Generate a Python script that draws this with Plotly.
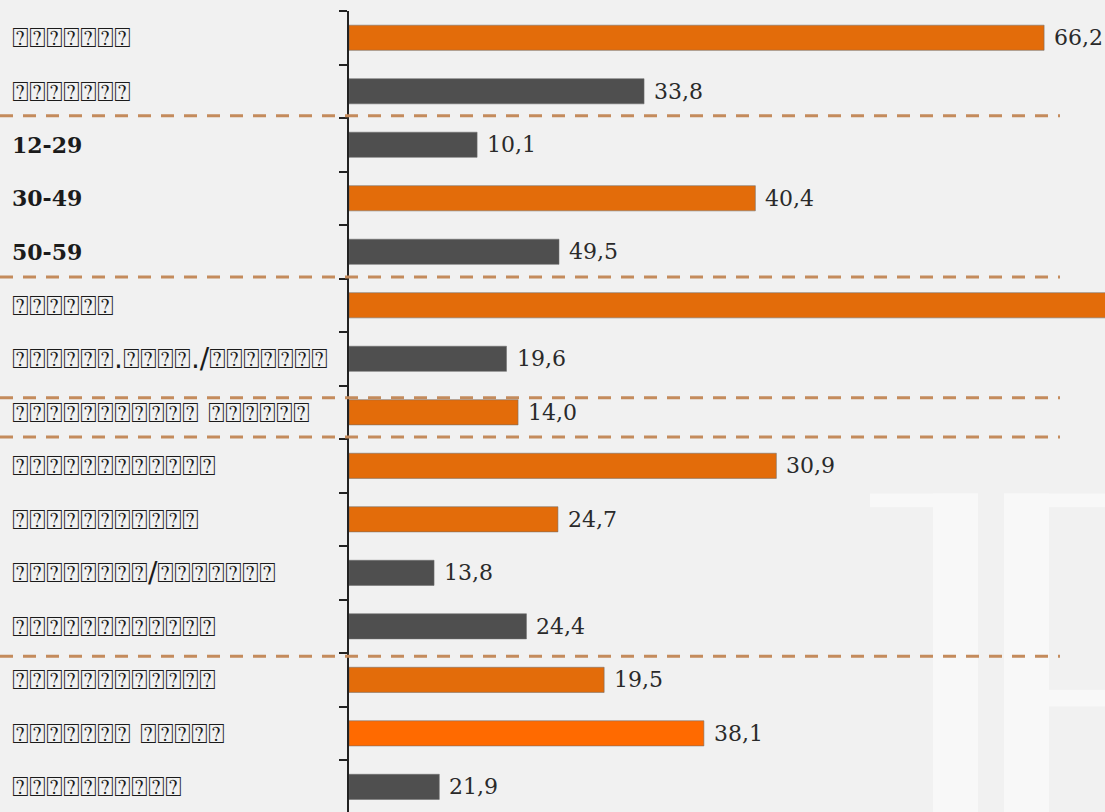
import plotly.graph_objects as go

B = "\u2370"  # missing-glyph box, as the labels appear in the reference

row_labels = [
    B * 7,
    B * 7,
    "12-29",
    "30-49",
    "50-59",
    B * 6,
    B * 6 + "." + B * 4 + "./" + B * 7,
    B * 11 + " " + B * 6,
    B * 12,
    B * 11,
    B * 8 + "/" + B * 7,
    B * 12,
    B * 12,
    B * 7 + " " + B * 5,
    B * 10,
]
label_bold = [False, False, True, True, True] + [False] * 10

# bar lengths as drawn (same units as the first bar's label)
bar_lengths = [66.2, 28.1, 12.2, 38.7, 20.0, 76.0, 15.0, 16.1, 40.7, 19.9, 8.1, 16.9, 24.3, 33.8, 8.6]
# value labels printed next to the bars ("" = not visible)
value_labels = ["66,2", "33,8", "10,1", "40,4", "49,5", "", "19,6", "14,0",
                "30,9", "24,7", "13,8", "24,4", "19,5", "38,1", "21,9"]
bar_kind = ["o", "g", "g", "o", "g", "o", "g", "o", "o", "o", "g", "g", "o", "b", "g"]

# dashed separators (category-axis positions)
separators = [1.46, 4.47, 6.73, 7.46, 11.56]

ORANGE = "#E36C0A"
BRIGHT = "#FF6A00"
GRAY = "#4F4F4F"
cmap = {"o": ORANGE, "g": GRAY, "b": BRIGHT}

W, H = 1105, 812
AX_X = 349
n = len(row_labels)
ys = list(range(n))

fig = go.Figure()
fig.add_trace(go.Bar(
    x=bar_lengths, y=ys, orientation="h",
    marker=dict(color=[cmap[k] for k in bar_kind],
                line=dict(color="rgba(110,110,110,0.55)", width=1)),
    width=0.47, hoverinfo="skip",
))

annotations = []
for i in range(n):
    annotations.append(dict(
        x=10 / W, xref="paper", y=i, yref="y", xanchor="left", yanchor="middle",
        text=("<b>%s</b>" % row_labels[i]) if label_bold[i] else row_labels[i],
        showarrow=False,
        font=dict(family="DejaVu Serif" if label_bold[i] else "DejaVu Sans",
                  size=22 if label_bold[i] else 28, color="#1b1b1b"),
    ))
    if value_labels[i]:
        annotations.append(dict(
            x=bar_lengths[i], xref="x", y=i, yref="y", xanchor="left", yanchor="middle",
            xshift=8, text=value_labels[i], showarrow=False,
            font=dict(family="DejaVu Serif", size=22, color="#2a2a2a"),
        ))

shapes = []
# faint watermark blocks (bottom right)
wm = "#F8F8F8"
for (x0, y0, x1, y1) in [(870, 489, 978, 503), (933, 489, 978, 812),
                         (1004, 489, 1105, 503), (1004, 489, 1049, 812),
                         (1049, 688, 1105, 705)]:
    shapes.append(dict(type="rect", xref="paper", yref="paper",
                       x0=x0 / W, x1=x1 / W, y0=1 - y1 / H, y1=1 - y0 / H,
                       fillcolor=wm, line=dict(width=0), layer="below"))
for s in separators:
    shapes.append(dict(type="line", xref="paper", yref="y", x0=0, x1=1060 / W,
                       y0=s, y1=s, line=dict(color="#C48B5C", width=3, dash="13px,10px")))

fig.update_layout(
    width=W, height=H,
    margin=dict(l=0, r=0, t=11, b=0),
    paper_bgcolor="#F1F1F1", plot_bgcolor="rgba(0,0,0,0)",
    showlegend=False,
    xaxis=dict(domain=[AX_X / W, 1], range=[0, (W - AX_X) / 10.5],
               showgrid=False, zeroline=False, showline=False,
               showticklabels=False, ticks=""),
    yaxis=dict(range=[n - 0.5 - 0.03, -0.5], showgrid=False, zeroline=False,
               showline=True, linecolor="#222222", linewidth=1.5,
               tickmode="array", tickvals=[i - 0.5 for i in range(n + 1)],
               ticks="outside", ticklen=8, tickwidth=1.5, tickcolor="#222222",
               showticklabels=False),
    annotations=annotations, shapes=shapes,
)

fig.write_html("out.html", config={"displayModeBar": False},
               post_script="document.body.style.margin='0';document.body.style.background='#F1F1F1';")
